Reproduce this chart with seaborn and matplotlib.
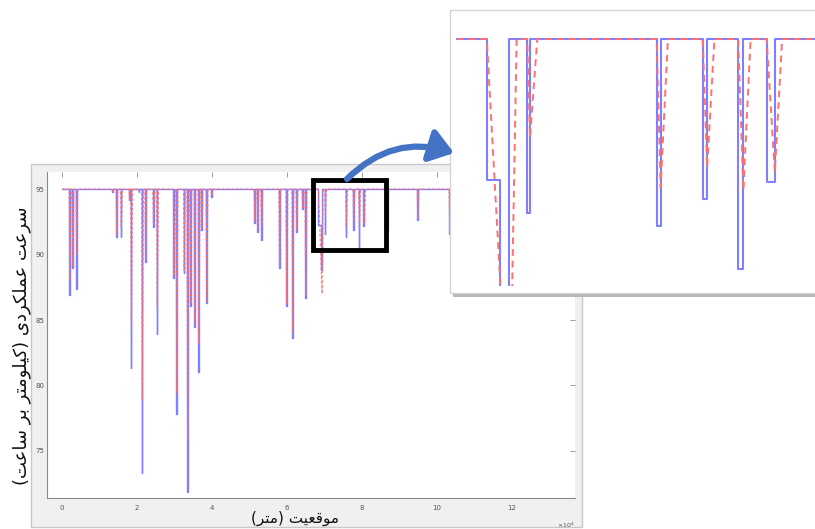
import pandas as pd
import matplotlib
matplotlib.use('Agg')
from matplotlib import pyplot as plt
from matplotlib.patches import Rectangle, FancyArrowPatch
import seaborn as sns

# speed drops along the route (position in 1e4 m, drop width, lowest speed km/h)
spike_pos = [0.19, 0.27, 0.37, 1.33, 1.44, 1.56, 1.78, 1.83, 2.04, 2.12, 2.21, 2.42,
             2.52, 2.97, 3.04, 3.24, 3.33, 3.41, 3.52, 3.63, 3.71, 3.84, 3.97, 5.12,
             5.20, 5.30, 5.78, 5.97, 6.13, 6.24, 6.40, 6.48, 6.839, 7.011, 7.562,
             7.758, 7.909, 8.030, 8.66, 9.47, 10.32]
spike_width = [0.02] * 32 + [0.096, 0.012, 0.017, 0.019, 0.022, 0.035, 0.02, 0.02, 0.02]
speed_min_blue = [86.9, 89.0, 87.4, 94.8, 91.3, 91.3, 94.2, 81.3, 94.8, 73.3, 89.4, 92.1,
                  83.9, 88.2, 77.8, 88.6, 71.9, 86.1, 84.5, 81.0, 91.9, 86.3, 94.4, 92.4,
                  91.7, 91.1, 89.0, 86.1, 83.6, 91.7, 93.5, 86.7, 88.8, 91.59, 91.33,
                  91.86, 90.49, 92.2, 91.9, 92.6, 91.6]
speed_min_red = [88.0, 89.2, 90.1, 94.8, 91.5, 92.0, 94.3, 84.6, 94.8, 78.9, 89.6, 92.3,
                 86.0, 88.4, 79.4, 88.8, 75.8, 86.3, 84.8, 83.2, 92.1, 86.5, 94.5, 92.6,
                 91.9, 91.5, 89.2, 86.3, 84.0, 91.9, 93.6, 86.9, 87.0, 93.08, 92.10,
                 92.49, 92.04, 92.4, 92.1, 92.8, 91.8]
# the first drop inside the zoom box has an intermediate level
step_spike = 32
step_pos = 6.895
step_speed = 92.24

base_speed = 95
route_start, route_end = 0.0, 13.5
red_lag = 0.031

# zoom window
box_x = (6.69, 8.64)
box_y = (90.34, 95.69)
inset_x = (6.708, 8.236)
inset_y = (90.16, 95.51)

ylabel_fa = 'سرعت عملکردی (کیلومتر بر ساعت)'
xlabel_fa = 'موقعیت (متر)'

# presentation forms: isolated, final, initial, medial
FORMS = {
    'ا': ('\uFE8D', '\uFE8E', None, None),
    'ب': ('\uFE8F', '\uFE90', '\uFE91', '\uFE92'),
    'ت': ('\uFE95', '\uFE96', '\uFE97', '\uFE98'),
    'د': ('\uFEA9', '\uFEAA', None, None),
    'ر': ('\uFEAD', '\uFEAE', None, None),
    'س': ('\uFEB1', '\uFEB2', '\uFEB3', '\uFEB4'),
    'ع': ('\uFEC9', '\uFECA', '\uFECB', '\uFECC'),
    'ق': ('\uFED5', '\uFED6', '\uFED7', '\uFED8'),
    'ل': ('\uFEDD', '\uFEDE', '\uFEDF', '\uFEE0'),
    'م': ('\uFEE1', '\uFEE2', '\uFEE3', '\uFEE4'),
    'و': ('\uFEED', '\uFEEE', None, None),
    'ک': ('\uFB8E', '\uFB8F', '\uFB90', '\uFB91'),
    'ی': ('\uFBFC', '\uFBFD', '\uFBFE', '\uFBFF'),
}


def shape_fa(text):
    out = []
    for i, ch in enumerate(text):
        if ch not in FORMS:
            out.append(ch)
            continue
        prev = text[i - 1] if i > 0 else ''
        nxt = text[i + 1] if i + 1 < len(text) else ''
        join_prev = prev in FORMS and FORMS[prev][2] is not None
        join_next = FORMS[ch][2] is not None and nxt in FORMS
        iso, fin, ini, med = FORMS[ch]
        if join_prev and join_next:
            out.append(med)
        elif join_prev:
            out.append(fin)
        elif join_next:
            out.append(ini)
        else:
            out.append(iso)
    vis = ''.join(reversed(out))
    return vis.translate(str.maketrans('()', ')('))


# build the two speed profiles
bx, by = [route_start], [base_speed]
rx, ry = [route_start], [base_speed]
for i, (x0, w, bmin, rmin) in enumerate(zip(spike_pos, spike_width, speed_min_blue, speed_min_red)):
    x1 = x0 + w
    if i == step_spike:
        bx += [x0, x0, step_pos, step_pos, x1, x1]
        by += [base_speed, step_speed, step_speed, bmin, bmin, base_speed]
    else:
        bx += [x0, x0, x1, x1]
        by += [base_speed, bmin, bmin, base_speed]
    rx += [x0, x1, x1 + red_lag]
    ry += [base_speed, rmin, base_speed]
bx.append(route_end)
by.append(base_speed)
rx.append(route_end)
ry.append(base_speed)
blue_df = pd.DataFrame({'pos': bx, 'speed': by})
red_df = pd.DataFrame({'pos': rx, 'speed': ry})

sns.set_theme(style='white')
plt.rcParams['font.family'] = ['DejaVu Sans']

W, H = 815, 529
fig = plt.figure(figsize=(W / 100, H / 100), dpi=100)


def fr(x0, y0, x1, y1):
    # pixel box (top-left origin) -> figure fraction rect
    return [x0 / W, 1 - y1 / H, (x1 - x0) / W, (y1 - y0) / H]


# matlab window background
r = fr(31, 164, 582, 527)
fig.patches.append(Rectangle((r[0], r[1]), r[2], r[3], transform=fig.transFigure,
                             facecolor='#f0f0f0', edgecolor='#c8c8c8', lw=1, zorder=-5))

ax = fig.add_axes(fr(47, 172, 575, 498))
ax.set_facecolor('white')
sns.lineplot(data=blue_df, x='pos', y='speed', sort=False, estimator=None, ax=ax,
             color='#8080ff', lw=1.0)
sns.lineplot(data=red_df, x='pos', y='speed', sort=False, estimator=None, ax=ax,
             color='#ff6f6f', lw=0.9, alpha=0.85, linestyle=(0, (2.2, 1.6)))
ax.set_xlim(-0.4, 13.68)
ax.set_ylim(71.41, 96.3)
ax.set_xticks([0, 2, 4, 6, 8, 10, 12])
ax.set_yticks([75, 80, 85, 90, 95])
ax.set(xlabel='', ylabel='')
for s in ['top', 'right']:
    ax.spines[s].set_visible(False)
for s in ['left', 'bottom']:
    ax.spines[s].set_color('#8a8a8a')
    ax.spines[s].set_linewidth(0.8)
ax.tick_params(axis='both', direction='in', length=3.5, width=0.6, color='#8a8a8a',
               labelsize=5, labelcolor='#555555', top=True, right=True)
ax.tick_params(axis='x', pad=5)
ax.tick_params(axis='y', pad=2)
ax.text(1.0, -0.085, r'$\times10^4$', transform=ax.transAxes, ha='right', va='center',
        fontsize=4.5, color='#555555')

# zoom box
ax.add_patch(Rectangle((box_x[0], box_y[0]), box_x[1] - box_x[0], box_y[1] - box_y[0],
                       fill=False, edgecolor='black', lw=3.5, clip_on=False, zorder=5))

# inset panel with shadow
r = fr(453, 14, 830, 297)
fig.patches.append(Rectangle((r[0], r[1]), r[2], r[3], transform=fig.transFigure,
                             facecolor='#b8b8b8', edgecolor='none', zorder=1.5))
r = fr(450, 10, 830, 293)
fig.patches.append(Rectangle((r[0], r[1]), r[2], r[3], transform=fig.transFigure,
                             facecolor='white', edgecolor='#d4d4d4', lw=1, zorder=2))

axi = fig.add_axes(fr(456, 13, 815, 286))
axi.set_zorder(3)
axi.patch.set_alpha(0)
sns.lineplot(data=blue_df, x='pos', y='speed', sort=False, estimator=None, ax=axi,
             color='#8080ff', lw=1.5)
sns.lineplot(data=red_df, x='pos', y='speed', sort=False, estimator=None, ax=axi,
             color='#ff7070', lw=1.4, linestyle=(0, (3.5, 2.5)))
axi.set_xlim(*inset_x)
axi.set_ylim(*inset_y)
axi.set(xlabel='', ylabel='', xticks=[], yticks=[])
for s in axi.spines.values():
    s.set_visible(False)

# curved arrow from the box to the inset
arrow = FancyArrowPatch((347 / W, 1 - 179 / H), (454 / W, 1 - 153 / H),
                        transform=fig.transFigure, connectionstyle='arc3,rad=-0.3',
                        arrowstyle='-|>,head_length=0.7,head_width=0.5', mutation_scale=20,
                        lw=4.5, color='#4472c4', shrinkA=0, shrinkB=0, zorder=6)
fig.patches.append(arrow)

# axis titles
fig.text(295 / W, 1 - 518 / H, shape_fa(xlabel_fa), ha='center', va='center',
         fontsize=11, color='#111111', zorder=7)
fig.text(22 / W, 1 - 346 / H, shape_fa(ylabel_fa), ha='center', va='center',
         rotation=90, fontsize=13, color='#111111', zorder=7)

fig.savefig('out.png', dpi=100)
